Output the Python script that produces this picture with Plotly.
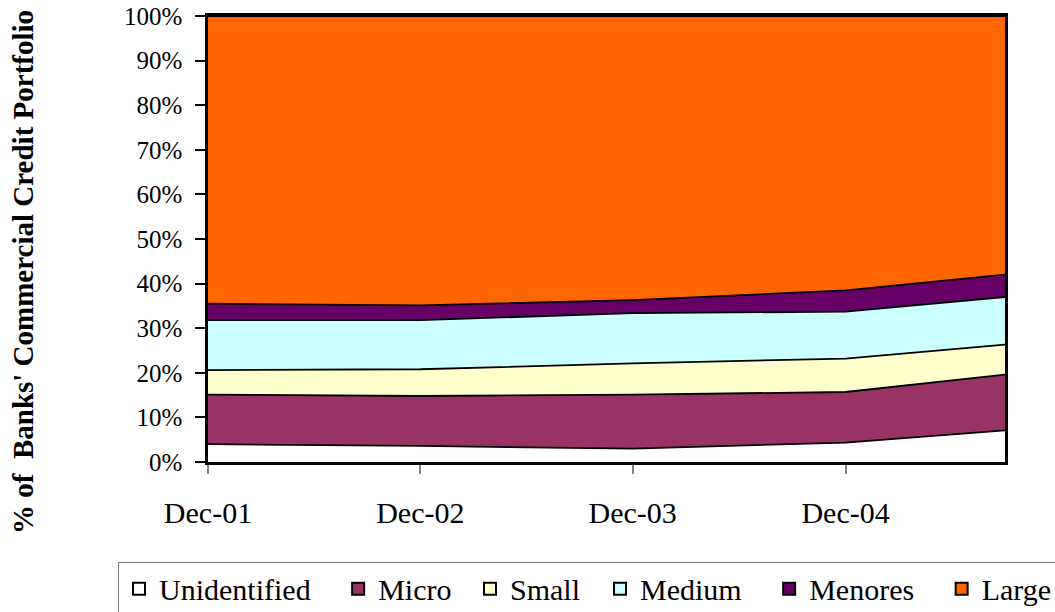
import plotly.graph_objects as go

# ---- data ----
dates = ["2001-12-01", "2002-12-01", "2003-12-01", "2004-12-01", "2005-09-01"]
tick_vals = ["2001-12-01", "2002-12-01", "2003-12-01", "2004-12-01"]
tick_text = ["Dec-01", "Dec-02", "Dec-03", "Dec-04"]

unidentified = [4.0, 3.6, 3.0, 4.35, 7.1]
micro = [11.1, 11.2, 12.1, 11.35, 12.5]
small = [5.5, 6.0, 7.0, 7.5, 6.7]
medium = [11.2, 11.0, 11.3, 10.5, 10.7]
menores = [3.7, 3.3, 2.9, 4.8, 5.0]
large = [64.5, 64.9, 63.7, 61.5, 58.0]

series_names = ["Unidentified", "Micro", "Small", "Medium", "Menores", "Large"]
series_values = [unidentified, micro, small, medium, menores, large]
series_colors = ["#FFFFFF", "#993366", "#FFFFCC", "#CCFFFF", "#660066", "#FF6600"]

y_ticks = [0, 10, 20, 30, 40, 50, 60, 70, 80, 90, 100]
y_ticktext = [f"{v}%" for v in y_ticks]

FONT = "Liberation Serif"
NB = "\u00a0"
TH = "\u2009"
legend_pads = [NB * 3, NB + TH, NB * 2, NB * 3, NB * 3, ""]

fig = go.Figure()

for name, vals, col in zip(series_names, series_values, series_colors):
    fig.add_trace(go.Scatter(
        x=dates, y=vals, name=name, mode="lines",
        stackgroup="one", fillcolor=col,
        line=dict(color="black", width=1.8),
        showlegend=False, hoverinfo="skip",
    ))

# legend-only entries with square swatches
for name, col, pad in zip(series_names, series_colors, legend_pads):
    fig.add_trace(go.Scatter(
        x=[None], y=[None], name=name + pad, mode="markers",
        marker=dict(symbol="square", size=17, color=col,
                    line=dict(color="black", width=1.5)),
        showlegend=True,
    ))

fig.update_layout(
    width=1055, height=612,
    paper_bgcolor="white", plot_bgcolor="white",
    margin=dict(l=208, r=50, t=16, b=150, autoexpand=False),
    font=dict(family=FONT, color="black"),
    showlegend=True,
    legend=dict(
        orientation="h", x=(118 - 208) / 797, xanchor="left",
        y=-0.2235, yanchor="top",
        bgcolor="white", bordercolor="#808080", borderwidth=1,
        font=dict(family=FONT, size=30, color="black"),
        traceorder="normal", itemsizing="constant",
    ),
    xaxis=dict(
        type="date", range=[dates[0], dates[-1]],
        tickvals=tick_vals, ticktext=tick_text,
        ticks="outside", ticklen=9, tickwidth=1.5, tickcolor="#808080",
        ticklabelstandoff=13,
        tickfont=dict(family=FONT, size=30, color="black"),
        showline=True, linecolor="black", linewidth=2.5, mirror=True,
        showgrid=False, zeroline=False,
    ),
    yaxis=dict(
        range=[0, 100], tickvals=y_ticks, ticktext=y_ticktext,
        ticks="outside", ticklen=10, tickwidth=2, tickcolor="black",
        ticklabelstandoff=8,
        tickfont=dict(family=FONT, size=25, color="black"),
        showline=True, linecolor="black", linewidth=2.5, mirror=True,
        showgrid=False, zeroline=False,
    ),
    annotations=[dict(
        text="<b>% of  Banks' Commercial Credit Portfolio</b>",
        xref="paper", yref="paper",
        x=(23 - 208) / 797, y=(462 - 272) / 446,
        xanchor="center", yanchor="middle",
        textangle=-90, showarrow=False,
        font=dict(family=FONT, size=29, color="black"),
    )],
)

# remove the default 8px page margin so the figure fills the window exactly
fig.write_html("out.html", config={"displayModeBar": False},
               post_script="document.body.style.margin='0';")
